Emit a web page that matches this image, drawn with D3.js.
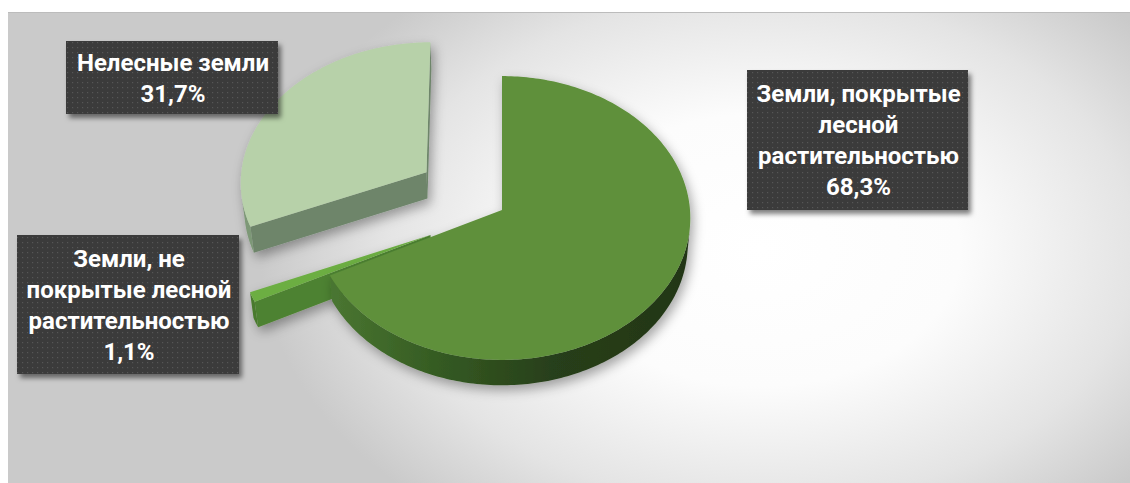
<!DOCTYPE html>
<html>
<head>
<meta charset="utf-8">
<script src="https://cdn.jsdelivr.net/npm/d3@7/dist/d3.min.js"></script>
<style>
  html, body { margin: 0; padding: 0; background: #ffffff; }
  svg { display: block; }
</style>
</head>
<body>
<svg id="chart" width="1130" height="483"></svg>
<script>
// Land categories and their shares, %
const categories = [
  "Земли, покрытые лесной растительностью",
  "Земли, не покрытые лесной растительностью",
  "Нелесные земли"
];
const values = [68.3, 1.1, 31.7];

// Line breaks used inside each data label
const labelLines = [
  ["Земли, покрытые", "лесной", "растительностью"],
  ["Земли, не", "покрытые лесной", "растительностью"],
  ["Нелесные земли"]
];

// Slice colours: top face, radial wall, outer wall
const topColors   = ["#5e903b", "#6cae43", "#b7d1a9"];
const radialColors = ["#3f6a27", "#4e8230", "#6e856b"];
const outerColors  = ["url(#mainWall)", "#4a7a2e", "#7d9877"];

// Layout of the 3D pie and explosion distances per slice
const pieLayout = { cx: 502, cy: 210, radius: 188, depth: 40, tilt: 41.2, focal: 2197 };
const explode = [0, 78, 92];

// Label box rectangles [x, y, w, h]
const labelBoxes = [
  [747, 70, 221, 140],
  [17, 235, 222, 139],
  [66, 41, 212, 73]
];

const svg = d3.select("#chart");
const W = 1130, H = 483;
const defs = svg.append("defs");

// Background: soft elliptical highlight on light grey
const bg = defs.append("radialGradient").attr("id", "bgGrad")
  .attr("gradientUnits", "userSpaceOnUse")
  .attr("cx", 0).attr("cy", 0).attr("r", 1)
  .attr("gradientTransform", "translate(760,250) scale(500,340)");
bg.append("stop").attr("offset", 0).attr("stop-color", "#ffffff");
bg.append("stop").attr("offset", 0.4).attr("stop-color", "#fcfcfc");
bg.append("stop").attr("offset", 0.75).attr("stop-color", "#e4e4e4");
bg.append("stop").attr("offset", 1).attr("stop-color", "#cacaca");

const wall = defs.append("linearGradient").attr("id", "mainWall")
  .attr("gradientUnits", "userSpaceOnUse")
  .attr("x1", 330).attr("y1", 0).attr("x2", 700).attr("y2", 0);
wall.append("stop").attr("offset", 0).attr("stop-color", "#4a7631");
wall.append("stop").attr("offset", 0.3).attr("stop-color", "#345a22");
wall.append("stop").attr("offset", 0.6).attr("stop-color", "#283f1a");
wall.append("stop").attr("offset", 1).attr("stop-color", "#223516");

const sh = defs.append("filter").attr("id", "pieShadow")
  .attr("x", "-20%").attr("y", "-20%").attr("width", "140%").attr("height", "140%");
sh.append("feDropShadow").attr("dx", 3).attr("dy", 5).attr("stdDeviation", 6)
  .attr("flood-color", "#000").attr("flood-opacity", 0.35);

const bsh = defs.append("filter").attr("id", "boxShadow")
  .attr("x", "-10%").attr("y", "-10%").attr("width", "125%").attr("height", "130%");
bsh.append("feDropShadow").attr("dx", 3).attr("dy", 4).attr("stdDeviation", 2.5)
  .attr("flood-color", "#000").attr("flood-opacity", 0.5);

const pat = defs.append("pattern").attr("id", "dots")
  .attr("patternUnits", "userSpaceOnUse").attr("width", 5).attr("height", 5);
pat.append("rect").attr("width", 5).attr("height", 5).attr("fill", "#3b3b3b");
pat.append("rect").attr("x", 2).attr("y", 2).attr("width", 1.2).attr("height", 1.2).attr("fill", "#565656");

svg.append("rect").attr("x", 8).attr("y", 12).attr("width", W - 8).attr("height", H - 12)
  .attr("fill", "url(#bgGrad)");
svg.append("line").attr("x1", 8).attr("x2", W).attr("y1", 12.5).attr("y2", 12.5)
  .attr("stroke", "#bcbcbc").attr("stroke-width", 1);

// --- 3D projection of the pie disc ---
const A = pieLayout.tilt * Math.PI / 180;
const cosA = Math.cos(A), sinA = Math.sin(A);
const F = pieLayout.focal, R = pieLayout.radius, Hd = pieLayout.depth;

// world coordinates of a disc point: u (right), t (back), d (down through thickness)
function world(u, t, d) {
  return [u, t * cosA - d * sinA, F + t * sinA + d * cosA];
}
function project(P) {
  return [pieLayout.cx + F * P[0] / P[2], pieLayout.cy - F * P[1] / P[2]];
}
function pt(u, t, d) { return project(world(u, t, d)); }
// a face with in-plane normal (a, b) at world point P faces the camera if N·P < 0
function facing(a, b, P) {
  return a * P[0] + b * cosA * P[1] + b * sinA * P[2] < 0;
}

const arcs = d3.pie().sort(null).value(d => d)
  .startAngle(0).endAngle(2 * Math.PI)(values);
const color = d3.scaleOrdinal().domain(d3.range(values.length)).range(topColors);

const line = d3.line();
const drawOrder = [2, 1, 0];

drawOrder.forEach(i => {
  const a = arcs[i];
  const mid = (a.startAngle + a.endAngle) / 2;
  const ou = explode[i] * Math.sin(mid), ot = explode[i] * Math.cos(mid);
  const g = svg.append("g").attr("filter", "url(#pieShadow)");

  const n = Math.max(4, Math.ceil((a.endAngle - a.startAngle) / (Math.PI / 180)));
  const angles = d3.range(n + 1).map(k => a.startAngle + (a.endAngle - a.startAngle) * k / n);
  const rim = (th, d) => pt(ou + R * Math.sin(th), ot + R * Math.cos(th), d);

  // radial walls
  [[a.startAngle, -1], [a.endAngle, 1]].forEach(([phi, s]) => {
    const na = s * Math.cos(phi), nb = -s * Math.sin(phi);
    const P = world(ou + R * 0.5 * Math.sin(phi), ot + R * 0.5 * Math.cos(phi), 0);
    if (!facing(na, nb, P)) return;
    const poly = [pt(ou, ot, 0), rim(phi, 0), rim(phi, Hd), pt(ou, ot, Hd)];
    g.append("path").attr("d", line(poly) + "Z").attr("fill", radialColors[i]);
  });

  // outer wall, grouped into continuous visible runs
  let run = [];
  const flush = () => {
    if (run.length > 1) {
      const poly = run.map(th => rim(th, 0)).concat(run.slice().reverse().map(th => rim(th, Hd)));
      g.append("path").attr("d", line(poly) + "Z").attr("fill", outerColors[i]);
    }
    run = [];
  };
  for (let k = 0; k < angles.length; k++) {
    const th = angles[k];
    const P = world(ou + R * Math.sin(th), ot + R * Math.cos(th), Hd / 2);
    if (facing(Math.sin(th), Math.cos(th), P)) run.push(th); else flush();
  }
  flush();

  // top face
  const top = [pt(ou, ot, 0)].concat(angles.map(th => rim(th, 0)));
  g.append("path").attr("d", line(top) + "Z").attr("fill", color(i));
});

// --- data labels ---
const fmt = v => d3.format(".1f")(v).replace(".", ",") + "%";
const lineGap = 31;
labelBoxes.forEach((b, i) => {
  const [x, y, w, h] = b;
  const g = svg.append("g");
  g.append("rect").attr("x", x).attr("y", y).attr("width", w).attr("height", h)
    .attr("fill", "url(#dots)").attr("filter", "url(#boxShadow)");
  const lines = labelLines[i].concat([fmt(values[i])]);
  const base = y + h / 2 + 8.5 - (lines.length - 1) * lineGap / 2;
  g.selectAll("text").data(lines).join("text")
    .attr("x", x + w / 2 + 1)
    .attr("y", (d, k) => base + k * lineGap)
    .attr("text-anchor", "middle")
    .attr("fill", "#ffffff")
    .attr("font-family", "Roboto, 'Noto Sans', sans-serif")
    .attr("font-weight", 700)
    .attr("font-size", 24)
    .text(d => d);
});
</script>
</body>
</html>
